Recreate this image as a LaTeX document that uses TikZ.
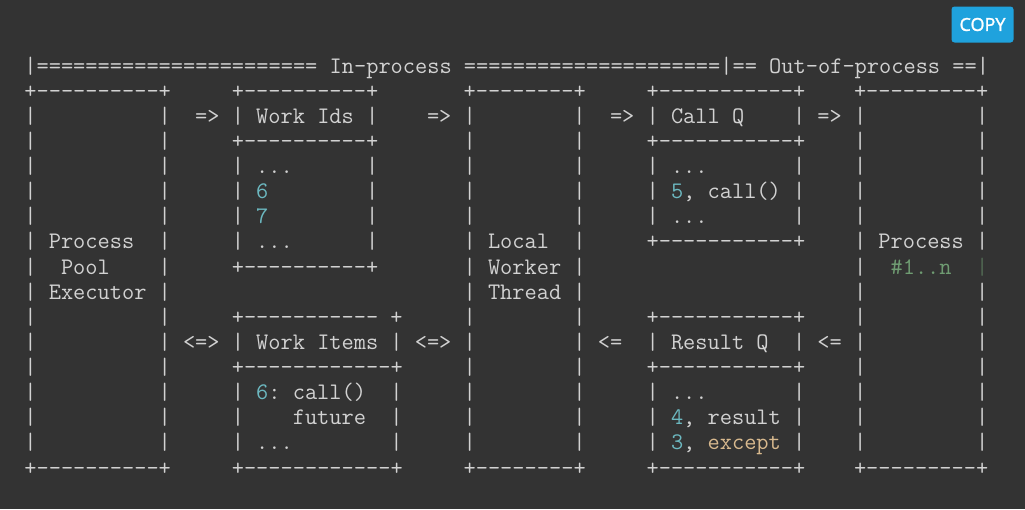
\documentclass[tikz,border=0pt]{standalone}
\usepackage{fontspec}
\setsansfont{Open Sans}
\definecolor{bg}{HTML}{333333}
\definecolor{fg}{HTML}{D2D2D2}
\definecolor{cy}{HTML}{6CB8C0}
\definecolor{gr}{HTML}{6F9C72}
\definecolor{tan}{HTML}{D8B98E}
\definecolor{btn}{HTML}{1FA2DD}
\newcount\tn
\newcommand\rep[2]{\ifnum#1>0 #2{}\rep{\numexpr#1-1\relax}{#2}\fi}
\newcommand\T[3]{\global\advance\tn by 1\relax
  \node[txt] (t\the\tn) at ({24.4+12.2*(#1)},{73+25.125*((#2)-1)}) {#3};}
\newcommand\Cy[1]{\textcolor{cy}{#1}}
\tikzset{txt/.style={anchor=base west, inner sep=0pt, outer sep=0pt, text=fg,
  font=\ttfamily\fontsize{23.71}{25}\selectfont\addfontfeature{FakeBold=2.5}\frenchspacing}}
\begin{document}
\begin{tikzpicture}[x=1pt,y=-1pt]
\fill[bg] (0,0) rectangle (1025,509);
\useasboundingbox (0,0) rectangle (1025,509);
% COPY button
\node[fill=btn, rounded corners=3pt, minimum width=62pt, minimum height=36pt,
  text=white, font=\sffamily\fontsize{18}{18}\selectfont\addfontfeature{FakeBold=1.5}, inner sep=0pt] (copy) at (982.5,24.5) {COPY};
% row 1
\T{0}{1}{|\rep{23}{=} In-process \rep{21}{=}|== Out-of-process ==|}
% row 2
\T{0}{2}{+\rep{10}{-}+}
\T{17}{2}{+\rep{10}{-}+}
\T{36}{2}{+\rep{8}{-}+}
\T{51}{2}{+\rep{11}{-}+}
\T{68}{2}{+\rep{9}{-}+}
% row 3
\T{0}{3}{|}\T{11}{3}{|}\T{14}{3}{=>}
\T{17}{3}{|}\T{19}{3}{Work Ids}\T{28}{3}{|}
\T{33}{3}{=>}\T{36}{3}{|}\T{45}{3}{|}\T{48}{3}{=>}
\T{51}{3}{|}\T{53}{3}{Call Q}\T{63}{3}{|}\T{65}{3}{=>}\T{68}{3}{|}\T{78}{3}{|}
% row 4
\T{0}{4}{|}\T{11}{4}{|}\T{17}{4}{+\rep{10}{-}+}\T{36}{4}{|}\T{45}{4}{|}
\T{51}{4}{+\rep{11}{-}+}\T{68}{4}{|}\T{78}{4}{|}
% rows 5-7
\foreach \r in {5,6,7}{
  \T{0}{\r}{|}\T{11}{\r}{|}\T{17}{\r}{|}\T{28}{\r}{|}\T{36}{\r}{|}\T{45}{\r}{|}
  \T{51}{\r}{|}\T{63}{\r}{|}\T{68}{\r}{|}\T{78}{\r}{|}
}
\T{19}{5}{...}\T{53}{5}{...}
\T{19}{6}{\Cy{6}}\T{53}{6}{\Cy{5}, call()}
\T{19}{7}{\Cy{7}}\T{53}{7}{...}
% row 8
\T{0}{8}{|}\T{2}{8}{Process}\T{11}{8}{|}\T{17}{8}{|}\T{19}{8}{...}\T{28}{8}{|}
\T{36}{8}{|}\T{38}{8}{Local}\T{45}{8}{|}\T{51}{8}{+\rep{11}{-}+}
\T{68}{8}{|}\T{70}{8}{Process}\T{78}{8}{|}
% row 9
\T{0}{9}{|}\T{3}{9}{Pool}\T{11}{9}{|}\T{17}{9}{+\rep{10}{-}+}
\T{36}{9}{|}\T{38}{9}{Worker}\T{45}{9}{|}
\T{68}{9}{|}\T{71}{9}{\textcolor{gr}{\#1..n}}\T{78}{9}{\textcolor{gr!50!bg}{|}}
% row 10
\T{0}{10}{|}\T{2}{10}{Executor}\T{11}{10}{|}
\T{36}{10}{|}\T{38}{10}{Thread}\T{45}{10}{|}\T{68}{10}{|}\T{78}{10}{|}
% row 11
\T{0}{11}{|}\T{11}{11}{|}\T{17}{11}{+\rep{11}{-}}\T{30}{11}{+}
\T{36}{11}{|}\T{45}{11}{|}\T{51}{11}{+\rep{11}{-}+}\T{68}{11}{|}\T{78}{11}{|}
% row 12
\T{0}{12}{|}\T{11}{12}{|}\T{13}{12}{<=>}
\T{17}{12}{|}\T{19}{12}{Work Items}\T{30}{12}{|}\T{32}{12}{<=>}
\T{36}{12}{|}\T{45}{12}{|}\T{47}{12}{<=}
\T{51}{12}{|}\T{53}{12}{Result Q}\T{63}{12}{|}\T{65}{12}{<=}\T{68}{12}{|}\T{78}{12}{|}
% row 13
\T{0}{13}{|}\T{11}{13}{|}\T{17}{13}{+\rep{12}{-}+}
\T{36}{13}{|}\T{45}{13}{|}\T{51}{13}{+\rep{11}{-}+}\T{68}{13}{|}\T{78}{13}{|}
% rows 14-16
\foreach \r in {14,15,16}{
  \T{0}{\r}{|}\T{11}{\r}{|}\T{17}{\r}{|}\T{30}{\r}{|}\T{36}{\r}{|}\T{45}{\r}{|}
  \T{51}{\r}{|}\T{63}{\r}{|}\T{68}{\r}{|}\T{78}{\r}{|}
}
\T{19}{14}{\Cy{6}: call()}\T{53}{14}{...}
\T{22}{15}{future}\T{53}{15}{\Cy{4}, result}
\T{19}{16}{...}\T{53}{16}{\Cy{3}, \textcolor{tan}{except}}
% row 17
\T{0}{17}{+\rep{10}{-}+}
\T{17}{17}{+\rep{12}{-}+}
\T{36}{17}{+\rep{8}{-}+}
\T{51}{17}{+\rep{11}{-}+}
\T{68}{17}{+\rep{9}{-}+}
\end{tikzpicture}
\end{document}
